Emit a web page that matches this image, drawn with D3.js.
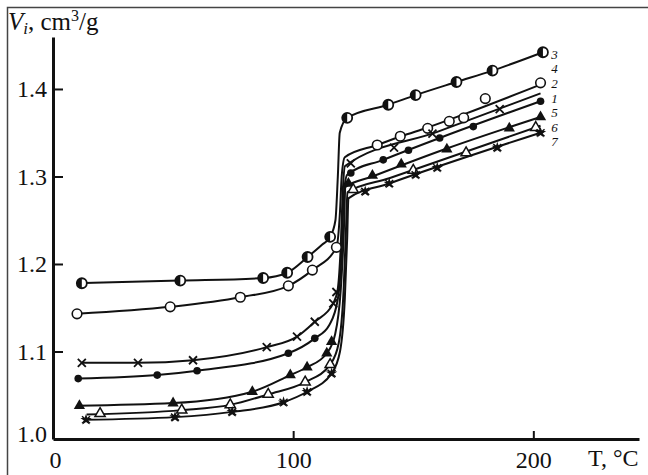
<!DOCTYPE html>
<html><head><meta charset="utf-8">
<script src="https://cdn.jsdelivr.net/npm/d3@7"></script>
<style>
html,body{margin:0;padding:0;background:#fff;}
svg{display:block;}
text{font-family:"Liberation Serif","Times New Roman",serif;fill:#111;}
</style></head>
<body>
<script>
// ---- data (T in °C, V in cm3/g) ----
const xTicks = [0, 100, 200];
const yTicks = [1.0, 1.1, 1.2, 1.3, 1.4];
const curveIds = ["3", "4", "2", "1", "5", "6", "7"];
const markerTypes = ["half", "open", "cross", "dot", "tri", "opentri", "star"];

const line3 = [[10,1.178],[53,1.181],[87.5,1.184],[97.5,1.19],[106,1.208],[112,1.222],[115.4,1.231],[117.6,1.25],[118.6,1.30],[119.4,1.35],[122.5,1.367],[139.6,1.382],[151,1.393],[168,1.408],[183,1.421],[204,1.442]];
const marks3 = [[12,1.178],[53,1.181],[87.5,1.184],[97.5,1.19],[106,1.208],[115.4,1.231],[122.5,1.367],[139.6,1.382],[151,1.393],[168,1.408],[183,1.421],[204,1.442]];

const line2 = [[10,1.143],[48.8,1.151],[78,1.162],[98,1.175],[108,1.193],[118,1.219],[119.5,1.26],[120.2,1.30],[121.5,1.322],[135,1.336],[145,1.346],[156,1.356],[171,1.371],[203,1.405]];
const marks2 = [[10,1.143],[48.8,1.151],[78,1.162],[98,1.175],[108,1.193],[118,1.219],[135,1.336],[144.6,1.346],[156,1.355],[165,1.363],[171,1.367],[180,1.389],[203,1.407]];

const line4 = [[12,1.087],[35.4,1.087],[58.3,1.09],[89,1.105],[101.6,1.117],[109,1.134],[116.7,1.155],[118.5,1.17],[119.8,1.22],[120.6,1.28],[121.6,1.312],[160,1.351],[203,1.395]];
const marks4 = [[12,1.087],[35.4,1.087],[58.3,1.09],[89,1.105],[101.6,1.117],[109,1.134],[116.7,1.155],[118,1.168],[124,1.315],[142,1.333],[158,1.349],[186,1.377]];

const line1 = [[10.5,1.069],[43.4,1.073],[60,1.078],[98,1.098],[109,1.115],[115,1.13],[118.6,1.16],[120.3,1.22],[121.1,1.28],[122.5,1.302],[137.5,1.319],[161,1.344],[203,1.386]];
const marks1 = [[10.5,1.069],[43.4,1.073],[60,1.078],[98,1.098],[109,1.115],[124,1.304],[137.5,1.319],[148,1.330],[161,1.344],[175,1.357],[203,1.386]];

const line5 = [[10,1.038],[50,1.041],[83,1.054],[98.8,1.073],[105.8,1.082],[114,1.098],[117.5,1.12],[119.8,1.17],[121,1.23],[121.8,1.288],[133,1.300],[164,1.332],[203,1.368]];
const marks5 = [[11,1.038],[50,1.041],[83,1.054],[98.8,1.073],[105.8,1.082],[114,1.098],[116,1.111],[123,1.292],[133,1.301],[145,1.314],[164,1.331],[190,1.355],[203,1.368]];

const line6 = [[14,1.028],[53.6,1.033],[73.8,1.039],[89.6,1.051],[105,1.065],[115.4,1.085],[119,1.11],[121,1.17],[122,1.24],[122.6,1.282],[140,1.298],[203,1.358]];
const marks6 = [[19.6,1.029],[53.6,1.033],[73.8,1.039],[89.6,1.051],[105,1.065],[115.4,1.085],[125,1.285],[150,1.307],[172,1.327],[201,1.356]];

const line7 = [[13,1.022],[50.8,1.025],[74.6,1.031],[96,1.042],[105.8,1.054],[116,1.075],[119.5,1.10],[121.5,1.16],[122.5,1.23],[123,1.275],[140,1.292],[203,1.350]];
const marks7 = [[13.75,1.022],[50.8,1.025],[74.6,1.031],[96,1.042],[105.8,1.054],[116,1.075],[130,1.283],[140,1.292],[151,1.302],[160,1.310],[185,1.333],[203,1.350]];

const labelT = 207.5;
const labelV = [1.440, 1.423, 1.406, 1.389, 1.373, 1.356, 1.340];

const lines = [line3, line2, line4, line1, line5, line6, line7];
const marks = [marks3, marks2, marks4, marks1, marks5, marks6, marks7];

// ---- drawing ----
const W = 648, H = 475;
const svg = d3.select("body").append("svg").attr("width", W).attr("height", H);

// frame
svg.append("path").attr("d", "M7.5,475 V7.5 H648").attr("fill", "none").attr("stroke", "#444").attr("stroke-width", 1.5);

const x = d3.scaleLinear().domain([0, 244]).range([53, 639]);
const y = d3.scaleLinear().domain([1.0, 1.4594]).range([439, 37]);

// x axis
const xa = svg.append("g").attr("transform", "translate(0,439)")
  .call(d3.axisBottom(x).tickValues(xTicks).tickSizeInner(-8).tickSizeOuter(0).tickFormat(d3.format("d")));
xa.select(".domain").attr("stroke", "#111").attr("stroke-width", 3);
xa.selectAll(".tick line").attr("stroke", "#111").attr("stroke-width", 2).filter(d => d === 0).remove();
xa.selectAll(".tick text").attr("font-size", 24).attr("fill", "#111")
  .attr("y", 12).attr("dy", "0.72em");
xa.selectAll(".tick text").filter(d => d === 0).attr("dx", 2);

// y axis
const ya = svg.append("g").attr("transform", "translate(53,0)")
  .call(d3.axisLeft(y).tickValues(yTicks).tickSizeInner(-10).tickSizeOuter(0).tickPadding(6).tickFormat(d3.format(".1f")));
ya.select(".domain").attr("stroke", "#111").attr("stroke-width", 3);
ya.selectAll(".tick line").attr("stroke", "#111").attr("stroke-width", 2).filter(d => d === 1.0).remove();
ya.selectAll(".tick text").attr("font-size", 24).attr("fill", "#111");
ya.selectAll(".tick text").filter(d => d === 1.0).attr("dy", "0.1em");

// axis titles
const yl = svg.append("text").attr("x", 8).attr("y", 30).attr("font-size", 25);
yl.append("tspan").attr("font-style", "italic").text("V");
yl.append("tspan").attr("font-style", "italic").attr("font-size", 17).attr("dy", 4).text("i");
yl.append("tspan").attr("dy", -4).text(", cm");
yl.append("tspan").attr("font-size", 16).attr("dy", -9).text("3");
yl.append("tspan").attr("dy", 9).text("/g");

svg.append("text").attr("x", 588).attr("y", 466).attr("font-size", 24).text("T, °C");

// curves
const lineGen = d3.line().x(d => x(d[0])).y(d => y(d[1])).curve(d3.curveMonotoneX);
const cg = svg.append("g");
lines.forEach(l => {
  cg.append("path").attr("d", lineGen(l)).attr("fill", "none").attr("stroke", "#111")
    .attr("stroke-width", 2).attr("stroke-linejoin", "round");
});

// markers
const mg = svg.append("g");
marks.forEach((ms, i) => {
  const t = markerTypes[i];
  ms.forEach(d => {
    const cx = x(d[0]), cy = y(d[1]);
    const g = mg.append("g").attr("transform", `translate(${cx},${cy})`);
    if (t === "half") {
      g.append("circle").attr("r", 5).attr("fill", "#fff").attr("stroke", "#111").attr("stroke-width", 1.8);
      g.append("path").attr("d", d3.arc()({innerRadius: 0, outerRadius: 5, startAngle: Math.PI, endAngle: 2 * Math.PI})).attr("fill", "#111");
    } else if (t === "open") {
      g.append("circle").attr("r", 4.8).attr("fill", "#fff").attr("stroke", "#111").attr("stroke-width", 1.6);
    } else if (t === "cross") {
      g.append("path").attr("d", "M-4,-4L4,4M-4,4L4,-4").attr("stroke", "#111").attr("stroke-width", 1.8);
    } else if (t === "dot") {
      g.append("circle").attr("r", 3.8).attr("fill", "#111");
    } else if (t === "tri") {
      g.append("path").attr("d", d3.symbol(d3.symbolTriangle, 55)()).attr("fill", "#111");
    } else if (t === "opentri") {
      g.append("path").attr("d", d3.symbol(d3.symbolTriangle, 45)()).attr("fill", "#fff").attr("stroke", "#111").attr("stroke-width", 1.5);
    } else if (t === "star") {
      g.append("path").attr("d", d3.symbol(d3.symbolStar, 40)()).attr("fill", "#111");
      g.append("path").attr("d", "M-4,-3.5L4,3.5M-4,3.5L4,-3.5").attr("stroke", "#111").attr("stroke-width", 1.5);
    }
  });
});

// curve labels
curveIds.forEach((id, i) => {
  svg.append("text").attr("x", x(labelT)).attr("y", y(labelV[i])).attr("dy", "0.35em")
    .attr("font-size", 13).attr("font-style", "italic").text(id);
});
</script>
</body></html>
